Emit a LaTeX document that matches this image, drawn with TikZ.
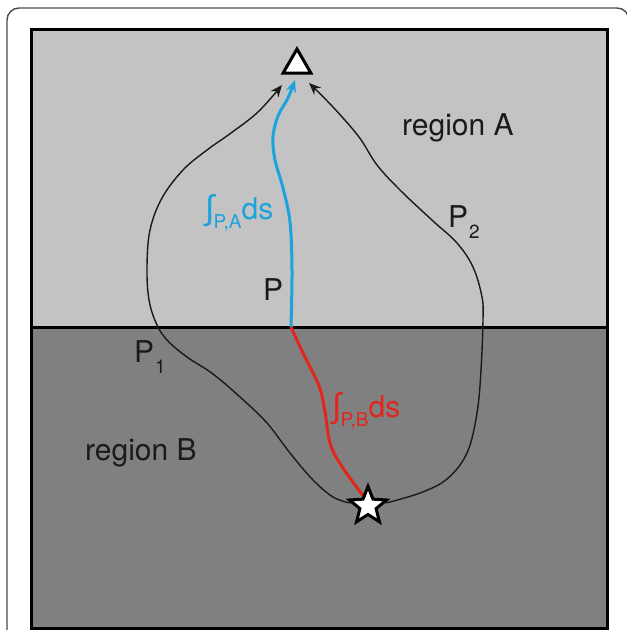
\documentclass[tikz,border=0pt]{standalone}
\usepackage{fontspec}
\setmainfont{TeX Gyre Heros}
\newfontfamily\intfamily{Liberation Sans}
\usetikzlibrary{arrows.meta,shapes.geometric}
\definecolor{regA}{HTML}{C3C3C3}
\definecolor{regB}{HTML}{808080}
\definecolor{pathblue}{HTML}{1AA3DD}
\definecolor{pathred}{HTML}{E2261E}
\definecolor{txt}{HTML}{1A1A1A}
\tikzset{
  bigtxt/.style={font=\fontsize{30}{30}\selectfont, text=txt, inner sep=0pt, anchor=base west},
  raypath/.style={line width=1.4pt, txt, -{Stealth[length=12pt,width=10pt]}},
  segpath/.style={line width=3pt},
}
\newcommand{\subfnt}{\fontsize{19}{19}\selectfont}
\newcommand{\intfnt}{\intfamily\fontsize{34}{34}\selectfont}
\begin{document}
\begin{tikzpicture}[x=1pt,y=-1pt]
\useasboundingbox (0,0) rectangle (627,630);
\begin{scope}
\clip (0,0) rectangle (627,630);
% outer frame
\draw[line width=1.4pt, draw=black!70, rounded corners=12pt] (7,8) rectangle (629,660);
% regions
\fill[regA] (31,29) rectangle (607,327);
\fill[regB] (31,327) rectangle (607,628);
\draw[line width=3pt] (31,29) rectangle (607,628);
\draw[line width=3pt] (31,327) -- (607,327);
\end{scope}

% named points
\coordinate (Pmid) at (291,327);
\coordinate (tipL) at (282,85);
\coordinate (tipB) at (295,80);
\coordinate (tipR) at (309,83);
\coordinate (sL) at (350,503);
\coordinate (sR) at (386,503);
\coordinate (sT) at (364,497);

% blue segment (region A)
\draw[segpath, pathblue, -{Stealth[length=12pt,width=10pt]}] plot[smooth, tension=0.6] coordinates
  {(Pmid) (292,270) (290,222) (283,188) (275,160) (273,137) (278,116) (288,98) (tipB)};
% red segment (region B)
\draw[segpath, pathred] plot[smooth, tension=0.6] coordinates
  {(Pmid) (303,353) (319,386) (325,412) (330,443) (341,465) (sT)};
% path P1
\draw[raypath] plot[smooth, tension=0.6] coordinates
  {(sL) (333,497) (313,480) (290,453) (267,423) (240,397) (213,374) (187,357) (168,341) (157,325) (149,300) (147,267) (150,230) (162,198) (183,170) (207,150) (231,133) (258,112) (tipL)};
% path P2
\draw[raypath] plot[smooth, tension=0.6] coordinates
  {(sR) (420,493) (447,479) (467,453) (477,413) (481,370) (483,320) (482,297) (473,267) (457,243) (433,221) (401,191) (377,165) (359,137) (333,107) (tipR)};

% receiver and source
\node[draw, line width=3pt, fill=white, regular polygon, regular polygon sides=3,
      minimum size=32pt, inner sep=0pt] (rcv) at (297,65) {};
\node[draw, line width=3pt, fill=white, star, star points=5, star point ratio=2.3,
      minimum size=39pt, inner sep=0pt] (src) at (368,506) {};

% labels
\node[bigtxt] (lA) at (402,135) {region A};
\node[bigtxt] (lB) at (85,460) {region B};
\node[bigtxt] (lP) at (263,300) {P};
\node[bigtxt] (lP1) at (134,362) {P\hspace{1pt}\raisebox{-11pt}{\subfnt 1}};
\node[bigtxt] (lP2) at (448,227) {P\hspace{1pt}\raisebox{-11pt}{\subfnt 2}};
\node[bigtxt, text=pathblue] (iA) at (205,219)
  {{\intfnt ∫}\hspace{-1pt}\raisebox{-9pt}{\subfnt P,A}ds};
\node[bigtxt, text=pathred] (iB) at (332,417)
  {{\intfnt ∫}\hspace{-1pt}\raisebox{-9pt}{\subfnt P,B}ds};
\end{tikzpicture}
\end{document}
